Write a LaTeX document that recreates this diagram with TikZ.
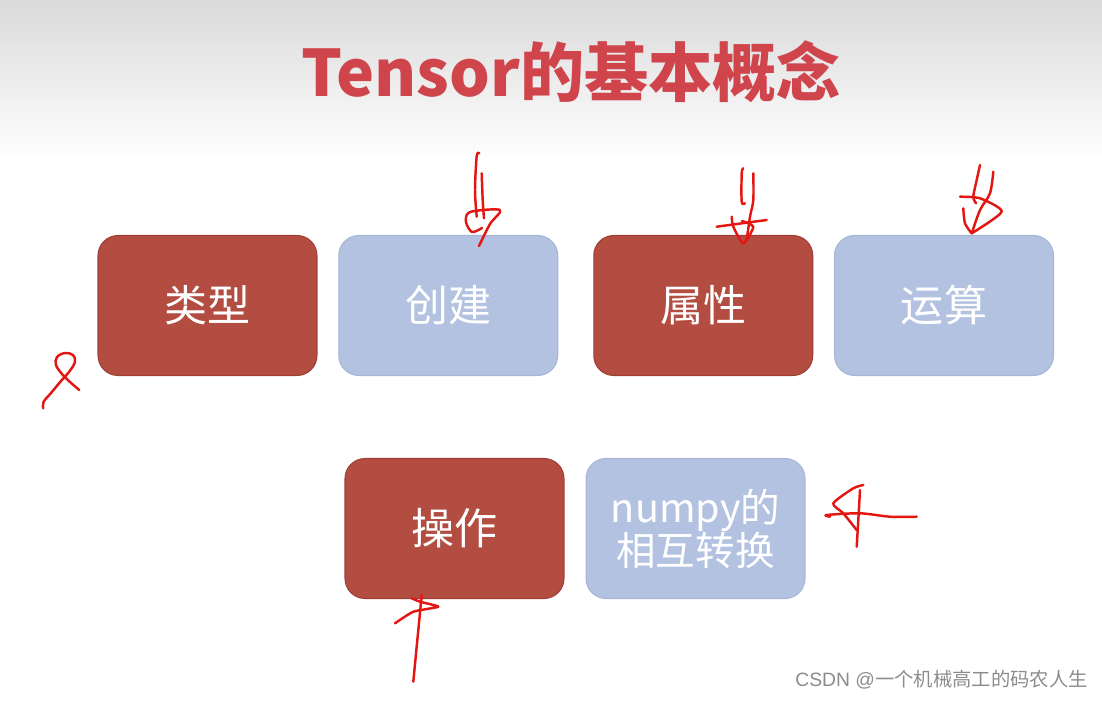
\documentclass[tikz,border=0pt]{standalone}
\usepackage{fontspec}
\usepackage{xcolor}
\usetikzlibrary{positioning}
\newfontfamily\cjk{Noto Sans CJK SC}
\setsansfont{Liberation Sans}
\definecolor{boxred}{RGB}{179,77,66}
\definecolor{boxredline}{RGB}{160,62,54}
\definecolor{boxblue}{RGB}{179,194,224}
\definecolor{boxblueline}{RGB}{166,182,214}
\definecolor{titlered}{RGB}{208,68,76}
\definecolor{ink}{RGB}{228,22,18}

\begin{document}
\begin{tikzpicture}[
  x=0.02cm, y=-0.02cm,
  font=\cjk\fontsize{24.5}{26}\selectfont,
  card/.style={rounded corners=0.4cm,minimum width=4.38cm,minimum height=2.8cm,
    text=white,align=center,line width=0.6pt},
  redcard/.style={card,fill=boxred,draw=boxredline},
  bluecard/.style={card,fill=boxblue,draw=boxblueline},
  pen/.style={ink,line width=1.4pt,line cap=round,line join=round}
]
\useasboundingbox (0,0) rectangle (1102,700);
\fill[top color={rgb,255:red,218;green,218;blue,218},bottom color=white] (0,0) rectangle (1102,160);

\node[font=\cjk\bfseries\fontsize{36.5}{38}\selectfont,text=titlered] (title) at (571,72) {Tensor的基本概念};

% first row
\node[redcard] (leixing) at (207.5,305.5) {类型};
\node[bluecard,right=0.415cm of leixing] (chuangjian) {创建};
\node[redcard,right=0.70cm of chuangjian] (shuxing) {属性};
\node[bluecard,right=0.415cm of shuxing] (yunsuan) {运算};
% second row
\node[redcard] (caozuo) at (454.5,528.5) {操作};
\node[bluecard,right=0.42cm of caozuo,font=\cjk\fontsize{22.5}{24.5}\selectfont] (numpy) {numpy的\\相互转换};

% hand marks
\draw[pen] plot[smooth,tension=0.6] coordinates {(43.3,408.3) (43.5,402) (51,393) (61,381) (69,372) (75,362) (73,355) (65,353) (57,357) (56,365) (62,374) (70,382) (79.3,390)};

\draw[pen] plot[smooth] coordinates {(479.3,153.3) (476.7,156) (475,190) (476.7,216.7)};
\draw[pen] plot[smooth] coordinates {(481.7,173.3) (482.7,200) (484,218.3)};
\draw[pen] plot[smooth,tension=0.5] coordinates {(482,228) (472,232) (466,222) (470,212) (500,210) (490,224) (479,246)};

\draw[pen] plot[smooth,tension=0.5] coordinates {(743.3,168.3) (741.7,173.3) (741.7,201.7) (745,203.3)};
\draw[pen] plot[smooth] coordinates {(753.3,173.3) (753.3,200) (750,216.7) (746.7,240)};
\draw[pen] (716.7,226.7) -- (766.7,220);
\draw[pen] plot[smooth,tension=0.4] coordinates {(731.7,216.7) (733.3,226.7) (743.3,243.3) (753.3,226.7) (742,221)};

\draw[pen] plot[smooth] coordinates {(980,165) (976.7,180) (973.3,196.7) (976,203.3)};
\draw[pen] plot[smooth] coordinates {(993.3,171.7) (990,193.3) (980,210) (971.7,233.3)};
\draw[pen] plot[smooth,tension=0.4] coordinates {(960,196.7) (980,198.3) (1001.7,211.7) (971.7,233.3)};
\draw[pen] plot[smooth] coordinates {(963.3,208.3) (965,223.3) (971.7,233.3)};

\draw[pen] plot[smooth,tension=0.5] coordinates {(830,516.7) (826.7,515) (860,513.3) (890,516.7) (916.7,516.7)};
\draw[pen] plot[smooth,tension=0.4] coordinates {(863.3,485) (853.3,488.3) (833.3,503.3) (843.3,513.3) (856.7,530)};
\draw[pen] plot[smooth] coordinates {(860,490) (858.3,520) (856.7,546.7)};

\draw[pen] plot[smooth] coordinates {(421.7,595) (418.3,630) (413.3,681.7)};
\draw[pen] plot[smooth,tension=0.3] coordinates {(411.7,598.3) (420,601.7) (438.3,606.7) (413.3,611.7) (395,623.3)};

% watermark
\node[anchor=east,inner sep=0pt,text=black!45,font=\sffamily\fontsize{11}{13}\selectfont] (mark) at (1088,680) {CSDN @{\cjk 一个机械高工的码农人生}};
\end{tikzpicture}
\end{document}
